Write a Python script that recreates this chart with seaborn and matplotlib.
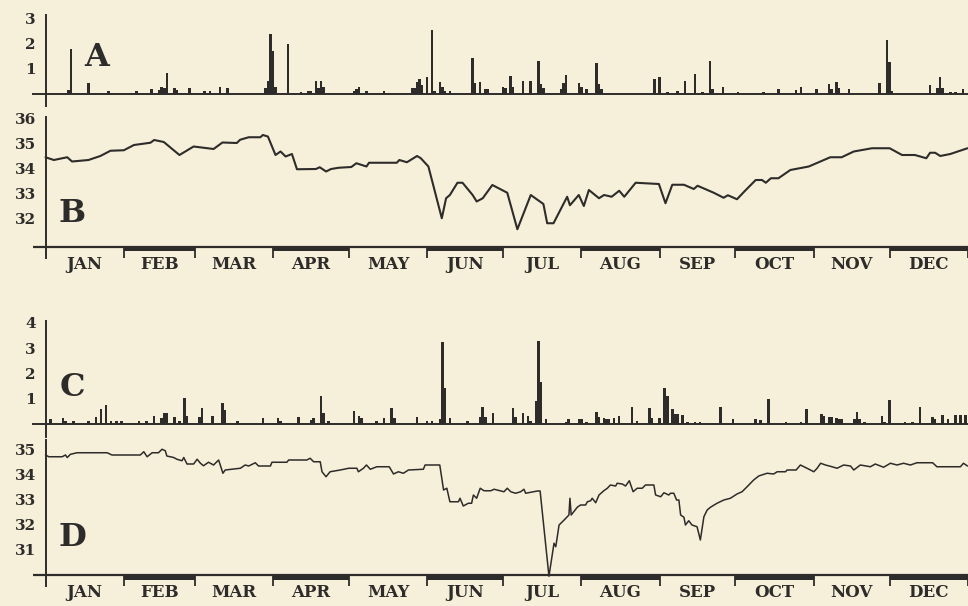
import matplotlib
matplotlib.use("Agg")
import matplotlib.pyplot as plt
import seaborn as sns

# ---- data (day of year -> value) ----
MONTHS = ['JAN', 'FEB', 'MAR', 'APR', 'MAY', 'JUN',
          'JUL', 'AUG', 'SEP', 'OCT', 'NOV', 'DEC']
MONTH_STARTS = [0, 31, 59, 90, 120, 151, 181, 212, 243, 273, 304, 334, 365]

# A: daily bars
A_DAYS = [9, 10, 17, 25, 36, 42, 45, 46, 47, 48, 51, 52, 57, 63, 65, 69, 72,
          87, 88, 89, 90, 91, 96, 101, 104, 105, 107, 108, 109, 110, 122, 123,
          124, 127, 134, 145, 146, 147, 148, 149, 151, 153, 154, 156, 157, 158,
          160, 169, 170, 172, 174, 175, 181, 182, 184, 185, 189, 192, 195, 196,
          197, 204, 205, 206, 211, 212, 214, 218, 219, 220, 241, 243, 246, 250,
          253, 257, 260, 263, 264, 268, 274, 284, 290, 297, 299, 305, 310, 311,
          313, 314, 318, 330, 333, 334, 335, 350, 353, 354, 355, 358, 360, 363]
A_VALUES = [0.16, 1.76, 0.43, 0.13, 0.13, 0.19, 0.16, 0.29, 0.23, 0.83, 0.23,
            0.16, 0.23, 0.13, 0.13, 0.29, 0.23, 0.23, 0.53, 2.36, 1.69, 0.29,
            1.96, 0.09, 0.13, 0.13, 0.52, 0.23, 0.52, 0.27, 0.13, 0.19, 0.27,
            0.13, 0.13, 0.23, 0.23, 0.49, 0.60, 0.36, 0.69, 2.53, 0.13, 0.49,
            0.27, 0.13, 0.13, 1.43, 0.43, 0.49, 0.21, 0.21, 0.29, 0.25, 0.72,
            0.29, 0.52, 0.52, 1.32, 0.39, 0.25, 0.21, 0.45, 0.75, 0.43, 0.29,
            0.21, 1.21, 0.39, 0.19, 0.61, 0.69, 0.08, 0.12, 0.52, 0.81, 0.08,
            1.32, 0.19, 0.29, 0.08, 0.08, 0.21, 0.16, 0.29, 0.19, 0.39, 0.21,
            0.48, 0.25, 0.19, 0.45, 2.12, 1.25, 0.12, 0.35, 0.25, 0.68, 0.25,
            0.08, 0.08, 0.21]

# B: line
B_DAYS = [0, 3.3, 8.6, 10.5, 17, 21.7, 25.7, 31, 35, 41.5, 43, 46.8, 53, 58.6,
          66.5, 70, 75.7, 77, 80.4, 85, 86, 88, 91, 93, 95, 97.5, 99.5, 107,
          108.5, 111, 113, 116, 121, 123, 127, 128, 139, 140, 143, 147, 148.5,
          151.5, 156.8, 158.5, 160, 163, 165, 169, 170.6, 173, 176.8, 182.7,
          186.7, 192, 197, 198.5, 201, 206.4, 207.5, 211, 213, 215, 219, 221,
          224, 227, 229, 233.5, 242.7, 245.3, 248, 252.6, 256.5, 258, 264.4,
          268.3, 270, 273.6, 276.5, 281, 283.5, 285, 287, 290, 294.7, 302,
          310.5, 315, 319.8, 327, 334, 338.9, 344, 348.5, 350, 352, 354, 358,
          364.8]
B_VALUES = [34.47, 34.36, 34.47, 34.30, 34.36, 34.52, 34.73, 34.75, 34.96,
            35.05, 35.16, 35.08, 34.56, 34.90, 34.80, 35.06, 35.04, 35.17,
            35.27, 35.27, 35.36, 35.30, 34.56, 34.70, 34.50, 34.60, 33.99,
            34.00, 34.07, 33.90, 34.00, 34.05, 34.08, 34.23, 34.10, 34.25,
            34.25, 34.36, 34.27, 34.52, 34.43, 34.10, 32.03, 32.83, 32.96,
            33.45, 33.45, 32.96, 32.70, 32.83, 33.36, 33.05, 31.59, 32.96,
            32.60, 31.83, 31.83, 32.89, 32.55, 32.96, 32.52, 33.16, 32.83,
            32.96, 32.89, 33.13, 32.89, 33.45, 33.40, 32.63, 33.37, 33.37,
            33.20, 33.33, 33.05, 32.85, 32.95, 32.79, 33.10, 33.56, 33.56,
            33.45, 33.63, 33.63, 33.96, 34.10, 34.47, 34.47, 34.70, 34.83,
            34.83, 34.56, 34.56, 34.43, 34.65, 34.65, 34.52, 34.60, 34.83]

# C: daily bars
C_DAYS = [2, 7, 8, 11, 17, 20, 22, 24, 26, 28, 30, 37, 40, 43, 46, 47, 48, 51,
          53, 55, 56, 61, 62, 66, 70, 71, 76, 86, 92, 93, 100, 105, 106, 109,
          110, 112, 122, 124, 125, 131, 134, 137, 138, 147, 151, 153, 156, 157,
          158, 160, 167, 172, 173, 174, 177, 185, 186, 189, 191, 192, 194, 195,
          196, 198, 206, 207, 211, 212, 214, 218, 219, 221, 222, 223, 225, 227,
          232, 234, 239, 240, 243, 245, 246, 248, 249, 250, 252, 254, 257, 259,
          267, 272, 281, 283, 286, 293, 299, 301, 307, 308, 310, 311, 313, 314,
          315, 320, 321, 322, 324, 331, 332, 334, 340, 343, 346, 351, 352, 355,
          357, 360, 362, 364]
C_VALUES = [0.19, 0.23, 0.13, 0.13, 0.13, 0.27, 0.59, 0.76, 0.13, 0.13, 0.13,
            0.13, 0.13, 0.32, 0.23, 0.43, 0.43, 0.29, 0.13, 1.03, 0.32, 0.29,
            0.63, 0.32, 0.83, 0.56, 0.13, 0.23, 0.23, 0.13, 0.29, 0.16, 0.23,
            1.12, 0.43, 0.13, 0.53, 0.32, 0.23, 0.13, 0.23, 0.63, 0.23, 0.29,
            0.13, 0.13, 0.19, 3.25, 1.43, 0.23, 0.13, 0.27, 0.69, 0.27, 0.45,
            0.63, 0.27, 0.45, 0.32, 0.13, 0.89, 3.27, 1.65, 0.19, 0.09, 0.19,
            0.19, 0.19, 0.09, 0.49, 0.29, 0.23, 0.19, 0.19, 0.23, 0.32, 0.69,
            0.13, 0.63, 0.23, 0.23, 1.43, 1.12, 0.59, 0.40, 0.40, 0.36, 0.09,
            0.09, 0.09, 0.69, 0.19, 0.19, 0.16, 0.99, 0.09, 0.09, 0.59, 0.40,
            0.32, 0.29, 0.27, 0.23, 0.19, 0.19, 0.19, 0.49, 0.19, 0.09, 0.32,
            0.09, 0.96, 0.09, 0.09, 0.67, 0.29, 0.19, 0.36, 0.19, 0.36, 0.36,
            0.36]

# D: line
D_DAYS = [0, 1.3, 6.6, 7.9, 8.6, 9.9, 12.5, 24.4, 26.3, 37.5, 38.9, 40.2, 42.2,
          44.7, 46.1, 47.4, 48.0, 50.7, 52.0, 54.0, 54.7, 56.0, 58.6, 60.0,
          61.3, 62.5, 64.5, 66.5, 68.5, 70.2, 71.1, 73.8, 77.1, 79.0, 80.4,
          83.0, 84.3, 89.0, 89.6, 95.5, 96.2, 103.4, 104.7, 106.1, 108.7,
          109.4, 111.0, 112.6, 116.6, 120.0, 123.2, 123.8, 125.8, 127.0, 128.5,
          131.1, 136.0, 137.7, 139.6, 141.6, 143.6, 149.5, 150.2, 156.0, 157.5,
          158.8, 160.0, 163.4, 164.0, 165.3, 167.3, 168.6, 169.3, 170.6, 172.0,
          173.5, 176.2, 177.5, 181.4, 182.7, 184.1, 186.0, 188.0, 189.3, 190.0,
          194.6, 195.7, 199.2, 201.2, 201.9, 203.2, 205.2, 207.1, 207.5, 208.0,
          210.4, 211.7, 213.7, 214.4, 215.7, 216.3, 217.7, 219.0, 220.9, 222.3,
          223.5, 225.6, 226.2, 228.2, 229.5, 231.0, 232.5, 234.1, 236.1, 237.4,
          240.7, 241.4, 243.4, 244.7, 246.6, 247.3, 248.6, 249.7, 250.6, 251.3,
          252.6, 253.2, 254.5, 255.8, 257.8, 259.1, 260.5, 261.8, 263.1, 265.7,
          268.4, 271.0, 273.6, 275.6, 277.6, 280.2, 282.2, 285.5, 288.1, 289.5,
          292.8, 293.4, 297.0, 298.7, 301.3, 304.0, 305.3, 306.7, 308.6, 311.2,
          313.2, 315.8, 318.5, 319.8, 322.4, 326.4, 328.3, 331.6, 334.3, 336.9,
          339.5, 342.2, 344.8, 351.0, 352.7, 362.0, 363.2, 364.8]
D_VALUES = [34.80, 34.73, 34.73, 34.80, 34.70, 34.83, 34.89, 34.89, 34.80,
            34.80, 34.93, 34.73, 34.89, 34.89, 35.03, 34.97, 34.76, 34.70,
            34.63, 34.57, 34.70, 34.44, 34.44, 34.63, 34.47, 34.37, 34.51,
            34.40, 34.60, 34.07, 34.20, 34.23, 34.27, 34.40, 34.36, 34.49,
            34.36, 34.36, 34.51, 34.51, 34.60, 34.60, 34.67, 34.53, 34.53,
            34.13, 33.93, 34.13, 34.20, 34.27, 34.27, 34.13, 34.27, 34.40,
            34.23, 34.33, 34.33, 34.04, 34.13, 34.07, 34.20, 34.23, 34.40,
            34.40, 33.40, 33.47, 32.93, 32.93, 33.07, 32.76, 32.87, 32.87,
            33.20, 33.07, 33.47, 33.37, 33.37, 33.43, 33.33, 33.47, 33.33,
            33.27, 33.33, 33.43, 33.27, 33.36, 33.36, 29.95, 31.27, 31.13,
            32.00, 32.20, 32.40, 33.07, 32.40, 32.71, 32.80, 32.80, 32.93,
            32.97, 33.07, 32.89, 33.20, 33.37, 33.47, 33.60, 33.56, 33.67,
            33.64, 33.56, 33.77, 33.33, 33.47, 33.47, 33.60, 33.60, 33.20,
            33.13, 33.29, 33.20, 33.27, 33.27, 33.00, 33.00, 32.40, 32.31,
            32.00, 32.17, 32.00, 31.93, 31.40, 32.33, 32.60, 32.71, 32.87,
            33.00, 33.07, 33.24, 33.33, 33.53, 33.80, 33.96, 34.07, 34.04,
            34.13, 34.13, 34.20, 34.20, 34.40, 34.27, 34.13, 34.27, 34.47,
            34.40, 34.33, 34.27, 34.40, 34.36, 34.20, 34.40, 34.33, 34.44,
            34.31, 34.47, 34.40, 34.47, 34.40, 34.49, 34.49, 34.33, 34.33,
            34.47, 34.36]

# ---- style ----
PAPER = '#F6F0DA'
INK = '#2E2C2A'
FONT = ['DejaVu Serif']

sns.set_theme(style='white')
plt.rcParams.update({
    'font.family': FONT,
    'font.weight': 'bold',
    'figure.facecolor': PAPER,
    'axes.facecolor': 'none',
    'axes.edgecolor': INK,
    'axes.linewidth': 1.4,
    'xtick.color': INK,
    'ytick.color': INK,
    'text.color': INK,
})

FIG_W, FIG_H = 968, 606
LEFT_PX, RIGHT_PX = 33, 968
DAY0_PX = 45.5
PX_PER_DAY = (RIGHT_PX - DAY0_PX) / 365.0


def make_axes(fig, top_px, bottom_px, ref_val, ref_px, px_per_unit, yticks):
    ax = fig.add_axes([LEFT_PX / FIG_W, 1 - bottom_px / FIG_H,
                       (RIGHT_PX - LEFT_PX) / FIG_W, (bottom_px - top_px) / FIG_H])
    to_val = lambda px: ref_val - (px - ref_px) / px_per_unit
    ax.set_xlim(-(DAY0_PX - LEFT_PX) / PX_PER_DAY, 365)
    ax.set_ylim(to_val(bottom_px), to_val(top_px))
    for s in ['top', 'right']:
        ax.spines[s].set_visible(False)
    ax.spines['left'].set_position(('data', 0))
    ax.set_yticks(yticks)
    ax.set_yticklabels([str(t) for t in yticks], fontsize=11, fontweight='bold')
    ax.tick_params(axis='y', direction='out', length=5.5, width=1.3, pad=1.5)
    ax.set_xlabel('')
    ax.set_ylabel('')
    return ax, to_val


def bar_panel(fig, top_px, bottom_px, zero_px, days, values, yticks):
    ax, _ = make_axes(fig, top_px, bottom_px, 0, zero_px, 25.3, yticks)
    sns.histplot(x=days, weights=values, discrete=True, ax=ax, color=INK,
                 alpha=1, linewidth=0, element='bars')
    ax.set_xlim(-(DAY0_PX - LEFT_PX) / PX_PER_DAY, 365)
    ax.set_ylim(-(bottom_px - zero_px) / 25.3, (zero_px - top_px) / 25.3)
    ax.spines['bottom'].set_position(('data', 0))
    ax.set_xticks([])
    ax.set_xlabel('')
    ax.set_ylabel('')
    return ax


def line_panel(fig, top_px, bottom_px, ref_val, ref_px, strip_px, days, values,
               yticks, lw):
    ax, to_val = make_axes(fig, top_px, bottom_px, ref_val, ref_px, 25.0, yticks)
    sns.lineplot(x=days, y=values, ax=ax, color=INK, linewidth=lw,
                 sort=False, estimator=None)
    ax.spines['bottom'].set_visible(False)
    x_left = ax.get_xlim()[0]
    y_line = to_val(strip_px)
    y_band = to_val(strip_px + 5)
    y_tick = to_val(bottom_px)
    # month strip: thin rule, heavy bars under alternate months, boundary ticks
    ax.plot([x_left, 365], [y_line, y_line], color=INK, lw=1.6,
            solid_capstyle='butt', clip_on=False)
    for i in range(1, 12, 2):
        ax.fill_between([MONTH_STARTS[i], MONTH_STARTS[i + 1]], y_band, y_line,
                        color=INK, linewidth=0, clip_on=False)
    ax.vlines(MONTH_STARTS[1:], y_tick, y_line, color=INK, lw=1.3, clip_on=False)
    mids = [(MONTH_STARTS[i] + MONTH_STARTS[i + 1]) / 2 for i in range(12)]
    ax.set_xticks(mids)
    ax.set_xticklabels(MONTHS, fontsize=12, fontweight='bold')
    ax.tick_params(axis='x', length=0, pad=-1.5)
    ax.set_xlabel('')
    ax.set_ylabel('')
    return ax


fig = plt.figure(figsize=(FIG_W / 100, FIG_H / 100), dpi=100)

bar_panel(fig, 15, 106, 94, A_DAYS, A_VALUES, [1, 2, 3])
line_panel(fig, 117, 258, 36, 119, 246.5, B_DAYS, B_VALUES,
           [32, 33, 34, 35, 36], 1.5)
bar_panel(fig, 321, 437, 424, C_DAYS, C_VALUES, [1, 2, 3, 4])
line_panel(fig, 440, 586, 35, 450, 575.5, D_DAYS, D_VALUES,
           [31, 32, 33, 34, 35], 1.1)

for letter, (px, py) in {'A': (97, 58), 'B': (72, 213),
                         'C': (72, 387), 'D': (72, 538)}.items():
    fig.text(px / FIG_W, 1 - py / FIG_H, letter, fontsize=23,
             fontweight='bold', ha='center', va='center', color=INK)

fig.savefig('out.png', dpi=100, facecolor=PAPER)
